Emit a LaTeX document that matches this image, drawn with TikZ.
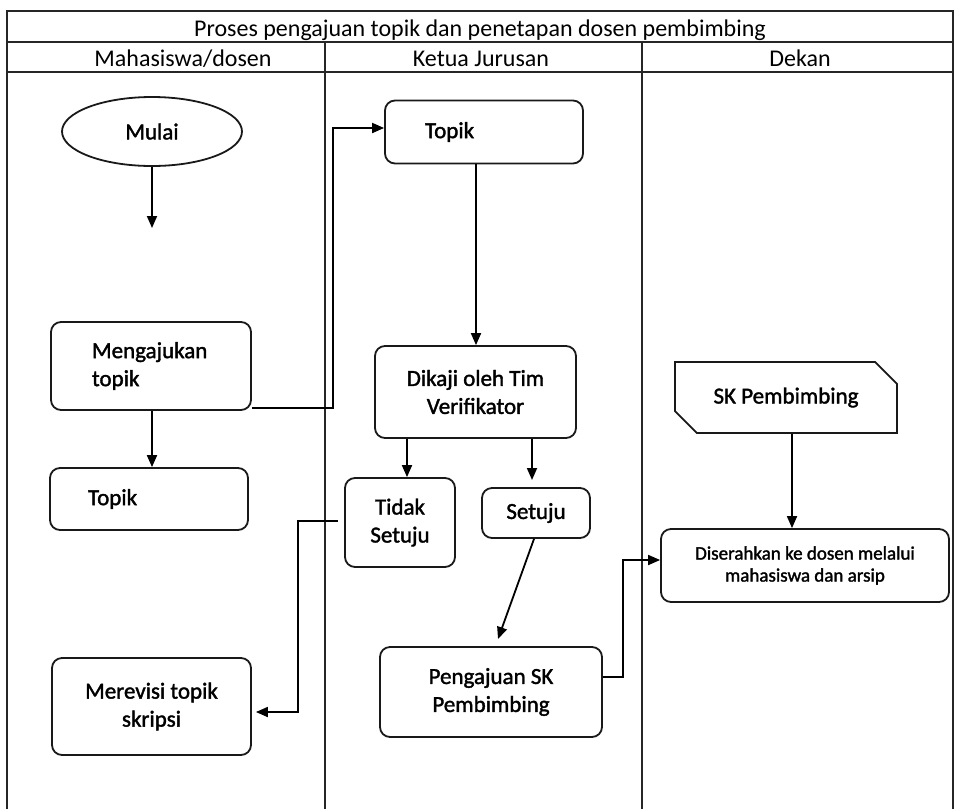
\documentclass[tikz,border=0pt]{standalone}
\usepackage{fontspec}
\setmainfont{Carlito}
\newfontfamily\bodyfont[FakeBold=1.6]{Carlito}
\usetikzlibrary{arrows.meta,shapes.geometric,shapes.misc}
\begin{document}
\begin{tikzpicture}[x=1pt,y=-1pt,
  lane/.style={line width=1.4pt, draw=black!85},
  box/.style={draw=black!90, line width=1.8pt, rounded corners=10pt, inner sep=0pt,
    font=\bodyfont\fontsize{23}{28}\selectfont},
  arr/.style={line width=1.8pt, -{Triangle[length=12pt,width=10pt]}},
  hdr/.style={font=\fontsize{24}{28}\selectfont, inner sep=0pt, anchor=base}
]
\useasboundingbox (0,0) rectangle (957,809);
% swimlane frame
\draw[lane] (7,809) -- (7,11) -- (953,11) -- (953,809);
\draw[lane] (7,42) -- (953,42);
\draw[lane] (7,72) -- (953,72);
\draw[lane] (325,42) -- (325,809);
\draw[lane] (642,42) -- (642,809);
\node[hdr] (title) at (480,36) {Proses pengajuan topik dan penetapan dosen pembimbing};
\node[hdr] (h1) at (183,66) {Mahasiswa/dosen};
\node[hdr] (h2) at (481,66) {Ketua Jurusan};
\node[hdr] (h3) at (800,66) {Dekan};

% nodes
\node[box, ellipse, rounded corners=0pt, minimum width=180pt, minimum height=69pt] (mulai) at (152,131.5) {Mulai};
\coordinate (mend) at (152,228);
\node[box, minimum height=88pt, text width=118pt, inner xsep=41pt, align=left] (meng) at (151,366) {Mengajukan\\topik};
\node[box, minimum height=62pt, text width=122pt, inner xsep=38pt, align=left] (topikA) at (149,499) {Topik};
\node[box, minimum width=199pt, minimum height=97pt, align=center] (merevisi) at (151.5,706.5) {Merevisi topik\\skripsi};
\node[box, minimum height=63pt, text width=118pt, inner xsep=40pt, align=left] (topikB) at (484,132) {Topik};
\node[box, minimum width=201pt, minimum height=92pt, align=center] (dikaji) at (475.5,392) {Dikaji oleh Tim\\Verifikator};
\node[box, minimum width=110pt, minimum height=89pt, align=center] (tidak) at (400,522.5) {Tidak\\Setuju};
\node[box, minimum width=108pt, minimum height=50pt, align=center] (setuju) at (536,513) {Setuju};
\node[box, minimum width=222pt, minimum height=90pt, align=center] (pengajuan) at (491,692) {Pengajuan SK\\Pembimbing};
\node[box, rounded corners=0pt, chamfered rectangle, chamfered rectangle corners={north east,south west},
  chamfered rectangle xsep=10pt, chamfered rectangle ysep=12pt,
  minimum width=222pt, minimum height=71pt] (sk) at (786,397.5) {SK Pembimbing};
\node[box, minimum width=288pt, minimum height=73pt, align=center, font=\bodyfont\fontsize{19}{22}\selectfont] (diserahkan) at (805,565.5) {Diserahkan ke dosen melalui\\mahasiswa dan arsip};

% connectors
\draw[arr] (mulai.south) -- (mend);
\draw[arr] (meng.south -| {(152,0)}) -- (topikA.north -| {(152,0)});
\draw[arr] (meng.east |- {(0,408)}) -- (333,408) -- (333,128) -- (topikB.west |- {(0,128)});
\draw[arr] (topikB.south -| {(476,0)}) -- (dikaji.north -| {(476,0)});
\draw[arr] (dikaji.south -| {(407,0)}) -- (tidak.north -| {(407,0)});
\coordinate (s1) at (532,480);
\draw[arr] (dikaji.south -| s1) -- (s1);
\coordinate (p1) at (498,639);
\draw[arr] (setuju.south -| {(534,0)}) -- (p1);
\coordinate (r1) at (298,521);
\draw[arr] ([xshift=-6pt]tidak.west |- r1) -- (r1) -- (298,712) -- ([xshift=4pt]merevisi.east |- {(0,712)});
\draw[arr] (pengajuan.east |- {(0,677)}) -- (623,677) -- (623,560) -- (diserahkan.west |- {(0,560)});
\draw[arr] (sk.south -| {(792,0)}) -- (diserahkan.north -| {(792,0)});
\end{tikzpicture}
\end{document}
